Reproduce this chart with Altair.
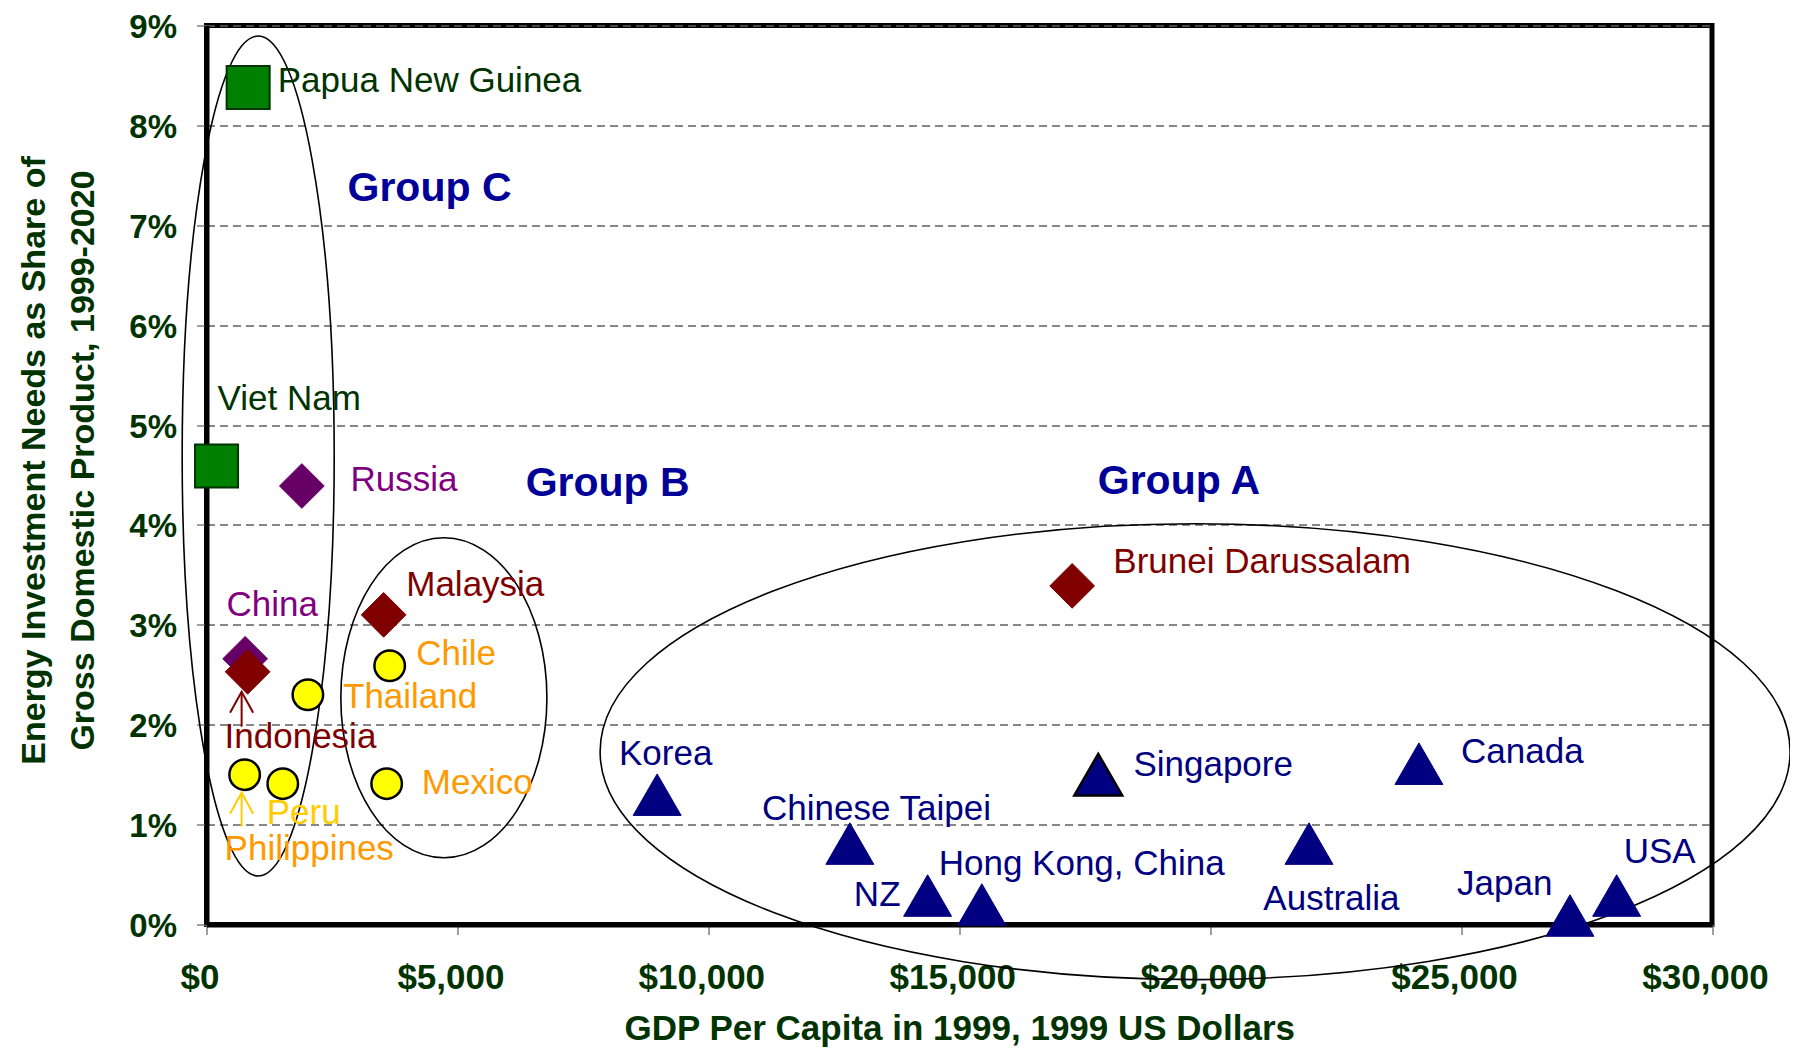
import altair as alt
import pandas as pd

# ---------------- data ----------------
countries = ["Papua New Guinea", "Viet Nam", "Russia", "China", "Indonesia", "Malaysia",
             "Brunei Darussalam", "Chile", "Thailand", "Mexico", "Philippines", "Peru",
             "Korea", "Chinese Taipei", "NZ", "Hong Kong, China", "Singapore", "Australia",
             "Canada", "Japan", "USA"]
gdp = [830, 200, 1900, 770, 820, 3530, 17250, 3650, 2020, 3590, 760, 1520,
       8980, 12820, 14370, 15450, 17770, 21970, 24160, 27170, 28100]
share = [8.38, 4.59, 4.39, 2.66, 2.53, 3.10, 3.39, 2.59, 2.30, 1.41, 1.50, 1.41,
         1.30, 0.81, 0.29, 0.20, 1.50, 0.81, 1.61, 0.09, 0.29]
kind = ["square", "square", "diamond_p", "diamond_p", "diamond_r", "diamond_r", "diamond_r",
        "circle", "circle", "circle", "circle", "circle",
        "triangle", "triangle", "triangle", "triangle", "triangle", "triangle", "triangle",
        "triangle", "triangle"]
# label anchor positions (data units)
label_gdp = [1420, 220, 2870, 400, 360, 3980, 18070, 4180, 2720, 4290, 360, 1200,
             8220, 11070, 12900, 14590, 18470, 21060, 25000, 24920, 28240]
label_share = [8.33, 5.15, 4.34, 3.09, 1.77, 3.29, 3.52, 2.60, 2.17, 1.31, 0.65, 1.01,
               1.60, 1.05, 0.185, 0.50, 1.49, 0.15, 1.62, 0.30, 0.62]

group_names = ["Group C", "Group B", "Group A"]
group_gdp = [2810, 6360, 17760]
group_share = [7.24, 4.29, 4.31]

arrow_names = ["Indonesia", "Philippines"]
arrow_gdp = [700, 700]
arrow_tip = [2.33, 1.32]
arrow_tail = [1.98, 0.98]

ellipse_names = ["Group C", "Group B", "Group A"]
ellipse_gdp = [1030, 4730, 19700]
ellipse_share = [4.69, 2.27, 1.73]

# ---------------- styles ----------------
AX_COLOR = "#003300"
FONT = "Liberation Sans"
LABEL_COLOR = {
    "Papua New Guinea": "#003300", "Viet Nam": "#003300",
    "Russia": "#800080", "China": "#800080",
    "Indonesia": "#800000", "Malaysia": "#800000", "Brunei Darussalam": "#800000",
    "Chile": "#FF9900", "Thailand": "#FF9900", "Mexico": "#FF9900", "Philippines": "#FF9900",
    "Peru": "#FFCC00",
}
for c in countries[12:]:
    LABEL_COLOR[c] = "#000080"
ARROW_COLOR = {"Indonesia": "#800000", "Philippines": "#FFCC00"}
ELLIPSE_SHAPE = {
    "Group C": ("M0,-1 A0.181,1 0 1 1 0,1 A0.181,1 0 1 1 0,-1 Z", 840 ** 2),
    "Group B": ("M0,-1 A0.644,1 0 1 1 0,1 A0.644,1 0 1 1 0,-1 Z", 320 ** 2),
    "Group A": ("M-1,0 A1,0.383 0 1 1 1,0 A1,0.383 0 1 1 -1,0 Z", 1190 ** 2),
}

pts = pd.DataFrame({"country": countries, "gdp": gdp, "share": share, "kind": kind})
labels = pd.DataFrame({"country": countries, "gdp": label_gdp, "share": label_share})
groups = pd.DataFrame({"name": group_names, "gdp": group_gdp, "share": group_share})
arrows = pd.DataFrame({"name": arrow_names, "gdp": arrow_gdp, "share": arrow_tip, "share2": arrow_tail})
ells = pd.DataFrame({"name": ellipse_names, "gdp": ellipse_gdp, "share": ellipse_share})

x_scale = alt.Scale(domain=[0, 30000], nice=False, zero=False)
y_scale = alt.Scale(domain=[0, 9], nice=False, zero=False)

x_axis = alt.Axis(
    values=list(range(0, 30001, 5000)), format="$,.0f",
    title="GDP Per Capita in 1999, 1999 US Dollars",
    grid=False, domainColor="black", domainWidth=5,
    tickColor="#808080", tickSize=10, tickWidth=1.5,
    labelFont=FONT, labelFontSize=35, labelFontWeight="bold", labelColor=AX_COLOR,
    labelBaseline="alphabetic", labelPadding=54, labelOffset=-7,
    labelFlush=False, labelOverlap=False,
    titleFont=FONT, titleFontSize=35, titleFontWeight="bold", titleColor=AX_COLOR,
    titleBaseline="alphabetic", titleY=115,
)
y_axis = alt.Axis(
    values=list(range(0, 10)), labelExpr="datum.value + '%'",
    title=["Energy Investment Needs as Share of", "Gross Domestic Product, 1999-2020"],
    grid=True, gridColor="#606060", gridDash=[8, 5], gridWidth=1.5,
    domainColor="black", domainWidth=5,
    tickColor="#808080", tickSize=10, tickWidth=1.5,
    labelFont=FONT, labelFontSize=33, labelFontWeight="bold", labelColor=AX_COLOR,
    labelPadding=20, labelOverlap=False, labelOffset=2,
    titleFont=FONT, titleFontSize=34, titleFontWeight="bold", titleColor=AX_COLOR,
    titleAngle=270, titleAlign="center", titleBaseline="alphabetic",
    titleX=-162, titleY=434.5, titleLineHeight=49,
)


def X():
    return alt.X("gdp:Q", scale=x_scale, axis=x_axis)


def Y():
    return alt.Y("share:Q", scale=y_scale, axis=y_axis)


layers = []

# ellipses
for name in ellipse_names:
    path, size = ELLIPSE_SHAPE[name]
    layers.append(
        alt.Chart(ells).transform_filter(alt.datum.name == name)
        .mark_point(shape=path, size=size, filled=False, stroke="black", strokeWidth=1.6, opacity=1)
        .encode(x=X(), y=Y())
    )

# markers
def marker(kinds, **props):
    return (alt.Chart(pts).transform_filter(alt.FieldOneOfPredicate(field="kind", oneOf=kinds))
            .mark_point(filled=True, opacity=1, **props).encode(x=X(), y=Y()))

layers.append(marker(["square"], shape="square", size=1850, fill="#008000", stroke="#003300", strokeWidth=2))
layers.append(marker(["diamond_p"], shape="diamond", size=2000, fill="#660066", stroke="#660066", strokeWidth=1))
layers.append(marker(["diamond_r"], shape="diamond", size=2000, fill="#800000", stroke="#800000", strokeWidth=1))
layers.append(marker(["circle"], shape="circle", size=930, fill="#FFFF00", stroke="black", strokeWidth=2.5))
layers.append(
    alt.Chart(pts).transform_filter(alt.datum.kind == "triangle")
    .mark_point(filled=True, opacity=1, shape="triangle-up", size=2300, fill="#000080")
    .encode(
        x=X(), y=Y(),
        stroke=alt.condition("datum.country === 'Singapore'", alt.value("black"), alt.value("#000080")),
        strokeWidth=alt.condition("datum.country === 'Singapore'", alt.value(2.5), alt.value(1)),
    )
)

# arrows
layers.append(
    alt.Chart(arrows).mark_rule(strokeWidth=2).encode(
        x=X(), y=Y(), y2="share2:Q",
        color=alt.Color("name:N", scale=alt.Scale(domain=arrow_names, range=[ARROW_COLOR[n] for n in arrow_names]), legend=None),
    )
)
layers.append(
    alt.Chart(arrows).mark_point(shape="M-0.55,1 L0,0 L0.55,1", size=42 ** 2, filled=False, strokeWidth=2, opacity=1).encode(
        x=X(), y=Y(),
        color=alt.Color("name:N", scale=alt.Scale(domain=arrow_names, range=[ARROW_COLOR[n] for n in arrow_names]), legend=None),
    )
)

# country labels
layers.append(
    alt.Chart(labels).mark_text(align="left", baseline="alphabetic", font=FONT, fontSize=35).encode(
        x=X(), y=Y(), text="country:N",
        color=alt.Color("country:N", scale=alt.Scale(domain=countries, range=[LABEL_COLOR[c] for c in countries]), legend=None),
    )
)

# group labels
layers.append(
    alt.Chart(groups).mark_text(align="left", baseline="alphabetic", font=FONT, fontSize=41,
                                fontWeight="bold", color="#000099").encode(
        x=X(), y=Y(), text="name:N",
    )
)

chart = alt.layer(*layers).resolve_scale(color="independent").properties(
    width=1505.5, height=899,
    autosize=alt.AutoSizeParams(type="none"),
    padding={"left": 198.5, "top": 17.5, "right": 78, "bottom": 124.5},
    background="white",
).configure_view(stroke="black", strokeWidth=5)

chart.save("out.html", embed_options={"renderer": "svg", "actions": False})
